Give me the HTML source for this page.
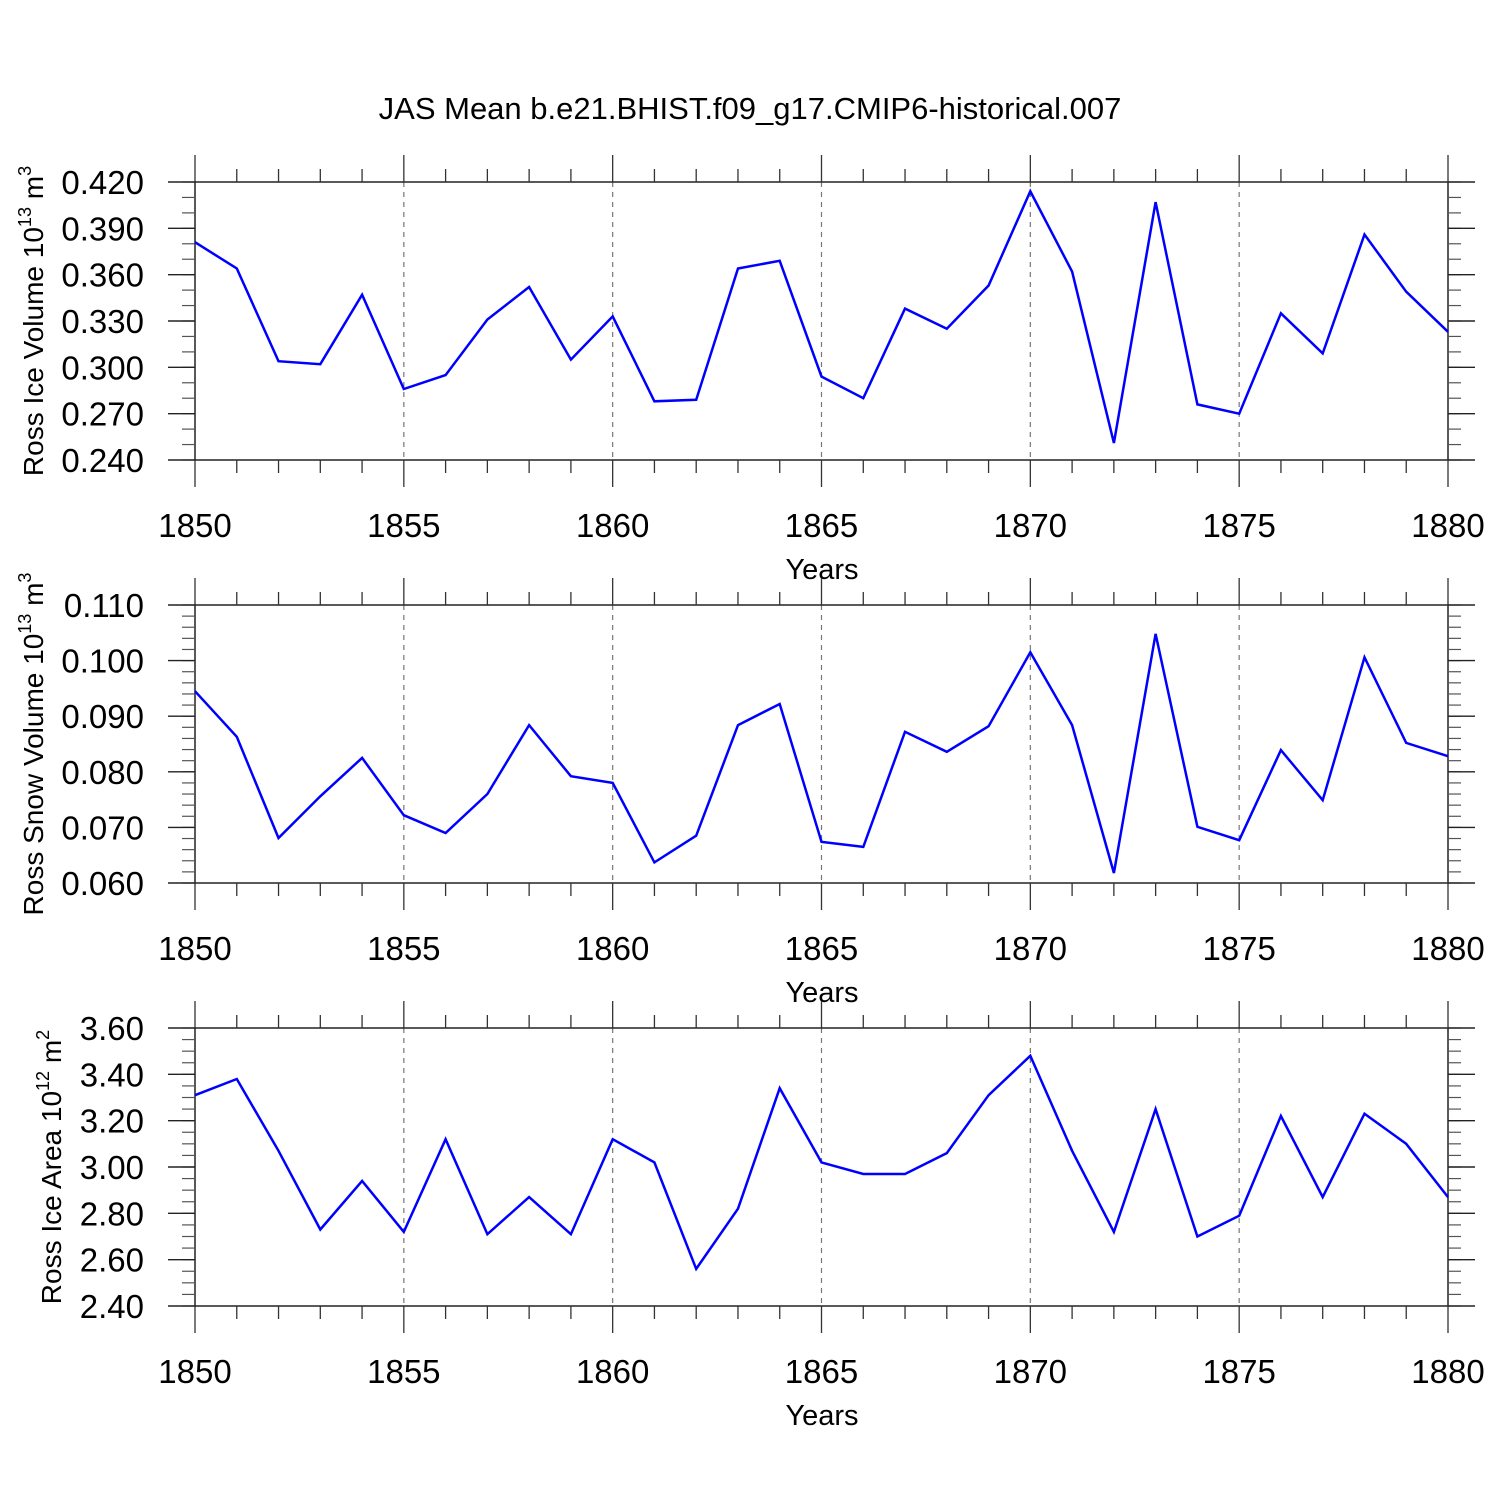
<!DOCTYPE html>
<html><head><meta charset="utf-8"><style>
html,body{margin:0;padding:0;background:#fff;}
svg{display:block;font-family:"Liberation Sans",Arial,sans-serif;}
</style></head><body>
<svg id="chart" width="1500" height="1500" viewBox="0 0 1500 1500" xmlns="http://www.w3.org/2000/svg">
<rect width="1500" height="1500" fill="#fff"/>
<text x="750" y="119" font-size="31" text-anchor="middle">JAS Mean b.e21.BHIST.f09_g17.CMIP6-historical.007</text>
</svg>
<script>
const years = [1850,1851,1852,1853,1854,1855,1856,1857,1858,1859,1860,1861,1862,1863,1864,1865,1866,1867,1868,1869,1870,1871,1872,1873,1874,1875,1876,1877,1878,1879,1880];
const iceVolume = [0.381,0.364,0.304,0.302,0.347,0.286,0.295,0.331,0.352,0.305,0.333,0.278,0.279,0.364,0.369,0.294,0.280,0.338,0.325,0.353,0.414,0.362,0.251,0.407,0.276,0.270,0.335,0.309,0.386,0.349,0.323];
const snowVolume = [0.0945,0.0863,0.0681,0.0756,0.0825,0.0722,0.0690,0.0760,0.0884,0.0792,0.0780,0.0637,0.0685,0.0884,0.0922,0.0674,0.0665,0.0872,0.0836,0.0882,0.1015,0.0884,0.0618,0.1048,0.0701,0.0677,0.0839,0.0749,0.1006,0.0852,0.0828];
const iceArea = [3.31,3.38,3.07,2.73,2.94,2.72,3.12,2.71,2.87,2.71,3.12,3.02,2.56,2.82,3.34,3.02,2.97,2.97,3.06,3.31,3.48,3.07,2.72,3.25,2.70,2.79,3.22,2.87,3.23,3.10,2.87];
const xTickLabels = ["1850","1855","1860","1865","1870","1875","1880"];
const iceVolTicks = ["0.240","0.270","0.300","0.330","0.360","0.390","0.420"];
const snowVolTicks = ["0.060","0.070","0.080","0.090","0.100","0.110"];
const iceAreaTicks = ["2.40","2.60","2.80","3.00","3.20","3.40","3.60"];

const svg = document.getElementById('chart');
const NS = 'http://www.w3.org/2000/svg';
const X0 = 195, X1 = 1448, H = 278;
function mk(tag, attrs){const e=document.createElementNS(NS,tag);for(const k in attrs)e.setAttribute(k,attrs[k]);return e;}
function xs(yr){return X0 + (yr-1850)/30*(X1-X0);}

const panels = [
 {top:182, data:iceVolume, ticks:iceVolTicks, min:0.24, max:0.42, minor:0.01, name:'ice-volume', title:'Ross Ice Volume 10', exp:'13', unit:' m', uexp:'3', tx:43},
 {top:605, data:snowVolume, ticks:snowVolTicks, min:0.06, max:0.11, minor:0.002, name:'snow-volume', title:'Ross Snow Volume 10', exp:'13', unit:' m', uexp:'3', tx:43},
 {top:1028, data:iceArea, ticks:iceAreaTicks, min:2.4, max:3.6, minor:0.05, name:'ice-area', title:'Ross Ice Area 10', exp:'12', unit:' m', uexp:'2', tx:61}
];

panels.forEach(p=>{
  const g = mk('g',{});
  
  
  svg.appendChild(g);
  const T=p.top, B=p.top+H;
  const ys = v => B - (v-p.min)/(p.max-p.min)*H;
  for(let yr=1855; yr<=1875; yr+=5){
    const l=mk('line',{x1:xs(yr),x2:xs(yr),y1:T,y2:B,stroke:'#777','stroke-width':1.2,'stroke-dasharray':'5,5'});
    
    
    g.appendChild(l);
  }
  const fr = mk('rect',{x:X0,y:T,width:X1-X0,height:H,fill:'none',stroke:'#222','stroke-width':1.5});
  
  
  g.appendChild(fr);
  for(let yr=1850; yr<=1880; yr++){
    const x=xs(yr); const major = yr%5===0; const len = major?27:13;
    g.appendChild(mk('line',{x1:x,x2:x,y1:T-len,y2:T,stroke:'#333','stroke-width':1.3}));
    g.appendChild(mk('line',{x1:x,x2:x,y1:B,y2:B+len,stroke:'#333','stroke-width':1.3}));
  }
  xTickLabels.forEach(s=>{
    const t=mk('text',{x:xs(+s),y:B+77,'font-size':33,'text-anchor':'middle'});
    t.textContent=s;
    
    
    g.appendChild(t);
  });
  const xt=mk('text',{x:822,y:B+119,'font-size':29,'text-anchor':'middle'});
  xt.textContent='Years';
  
  
  g.appendChild(xt);
  const nMinor = Math.round((p.max-p.min)/p.minor);
  for(let i=0;i<=nMinor;i++){
    const y = B - i/nMinor*H;
    g.appendChild(mk('line',{x1:X0-13,x2:X0,y1:y,y2:y,stroke:'#555','stroke-width':1.2}));
    g.appendChild(mk('line',{x1:X1,x2:X1+13,y1:y,y2:y,stroke:'#555','stroke-width':1.2}));
  }
  p.ticks.forEach(s=>{
    const y=ys(+s);
    g.appendChild(mk('line',{x1:X0-27,x2:X0,y1:y,y2:y,stroke:'#222','stroke-width':1.4}));
    g.appendChild(mk('line',{x1:X1,x2:X1+27,y1:y,y2:y,stroke:'#222','stroke-width':1.4}));
    const t=mk('text',{x:144,y:y+12,'font-size':33,'text-anchor':'end'});
    t.textContent=s;
    
    
    g.appendChild(t);
  });
  const cy = T+H/2;
  const yt=mk('text',{x:p.tx,y:cy,'font-size':28,'text-anchor':'middle',transform:`rotate(-90 ${p.tx} ${cy})`});
  
  
  const s1=mk('tspan',{}); s1.textContent=p.title; yt.appendChild(s1);
  const s2=mk('tspan',{dy:-12,'font-size':18}); s2.textContent=p.exp; yt.appendChild(s2);
  const s3=mk('tspan',{dy:12}); s3.textContent=p.unit; yt.appendChild(s3);
  const s4=mk('tspan',{dy:-12,'font-size':18}); s4.textContent=p.uexp; yt.appendChild(s4);
  g.appendChild(yt);
  const pts = p.data.map((v,i)=>xs(years[i]).toFixed(1)+','+ys(v).toFixed(1)).join(' ');
  const pl=mk('polyline',{points:pts,fill:'none',stroke:'#0000ff','stroke-width':2.5,'stroke-linejoin':'miter'});
  
  
  g.appendChild(pl);
});
</script>
</body></html>
